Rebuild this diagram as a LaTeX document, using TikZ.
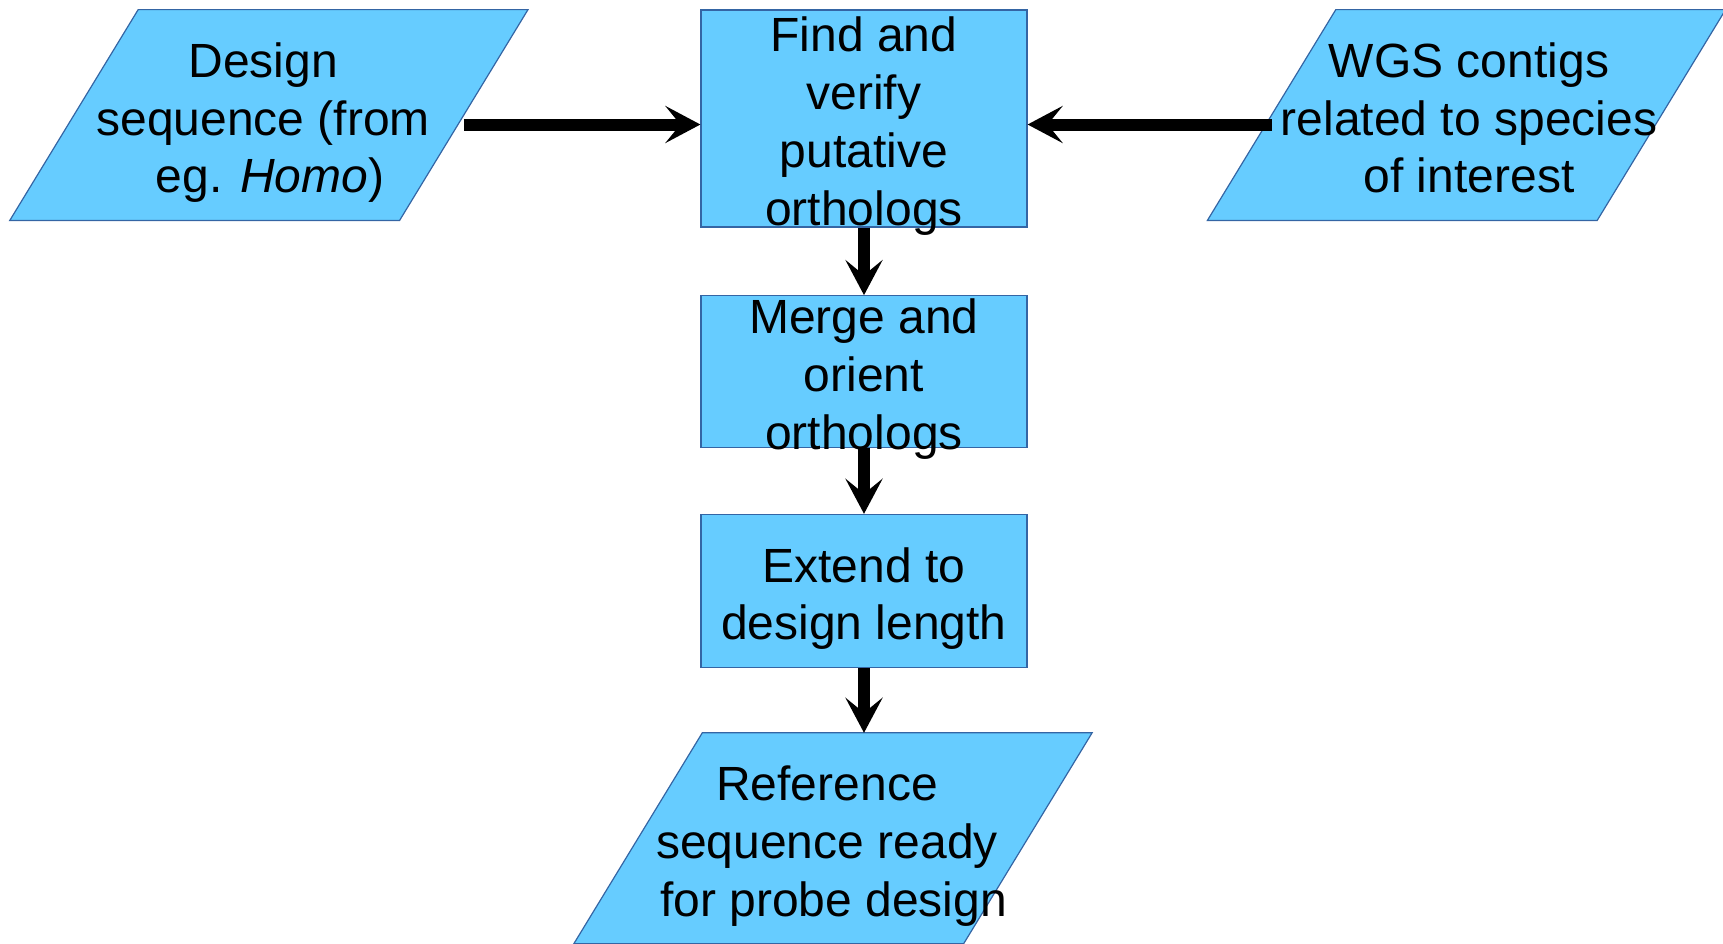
\documentclass[tikz,border=0pt]{standalone}
\usepackage{fontspec}
\setmainfont{Liberation Sans}
\usepackage{xcolor}
\usetikzlibrary{arrows.meta, positioning, backgrounds}
\definecolor{boxblue}{RGB}{102,204,255}
\definecolor{edgeblue}{RGB}{52,101,164}
% text may run over the edges of its shape, as in the drawing
\newcommand{\steptext}[1]{\smash{\raisebox{-10.5pt}{\begin{tabular}{@{}c@{}}#1\end{tabular}}}}
\newcommand{\paratext}[2][0pt]{\makebox[0pt]{\hspace*{#1}\steptext{#2}}}

\begin{document}
\begin{tikzpicture}[node distance=33.5pt and 118pt, auto,
    stepbox/.style={rectangle, draw=edgeblue, fill=boxblue, line width=0.6pt, minimum width=163pt, align=center, inner sep=0pt, font=\fontsize{24}{28.9}\selectfont},
    datapara/.style={rectangle, minimum width=194.5pt, minimum height=105pt, inner sep=0pt, align=center, font=\fontsize{24}{28.9}\selectfont},
    parashape/.style={draw=edgeblue, fill=boxblue, line width=0.6pt},
    flow/.style={draw=black, line width=6pt, -{Stealth[length=17.5pt, width=18.5pt, inset=7.5pt]}}
]
    \useasboundingbox (0,0) rectangle (861.5pt,-471.5pt);
    % Nodes
    \node (find) [stepbox, minimum height=108.5pt] at (432pt,-59.25pt) {\steptext{Find and\\verify\\putative\\orthologs}};
    \node (dseq) [datapara, left=118.3pt of find, yshift=1.75pt] {\paratext[-5.6pt]{Design\\sequence (from\\\ eg. \textit{Homo})}};
    \node (wgs) [datapara, right=122pt of find, yshift=1.75pt] {\paratext[2.5pt]{WGS contigs\\related to species\\of interest}};
    \node (merge) [stepbox, minimum height=75.75pt, below=33.75pt of find] {\steptext{Merge and\\orient\\orthologs}};
    \node (extend) [stepbox, minimum height=76.5pt, below=33pt of merge] {\steptext{Extend to\\design length}};
    \node (ref) [datapara, below=32.4pt of extend, xshift=-15.5pt] {\paratext[-6pt]{Reference\\sequence ready\\\ for probe design}};

    % Parallelograms behind the data nodes
    \begin{scope}[on background layer]
        \foreach \p in {dseq, wgs, ref}
            \path[parashape] ([xshift=32.1pt]\p.north west) -- ([xshift=32.1pt]\p.north east)
                -- ([xshift=-32.1pt]\p.south east) -- ([xshift=-32.1pt]\p.south west) -- cycle;
    \end{scope}

    % Arrows
    \draw [flow] ([yshift=-3pt]dseq.east |- find.west) -- ([yshift=-3pt]find.west);
    \draw [flow] ([yshift=-3pt]wgs.west |- find.east) -- ([yshift=-3pt]find.east);
    \draw [flow] (find.south) -- (merge.north);
    \draw [flow] (merge.south) -- (extend.north);
    \draw [flow] (extend.south) -- (extend.south |- ref.north);
\end{tikzpicture}
\end{document}
